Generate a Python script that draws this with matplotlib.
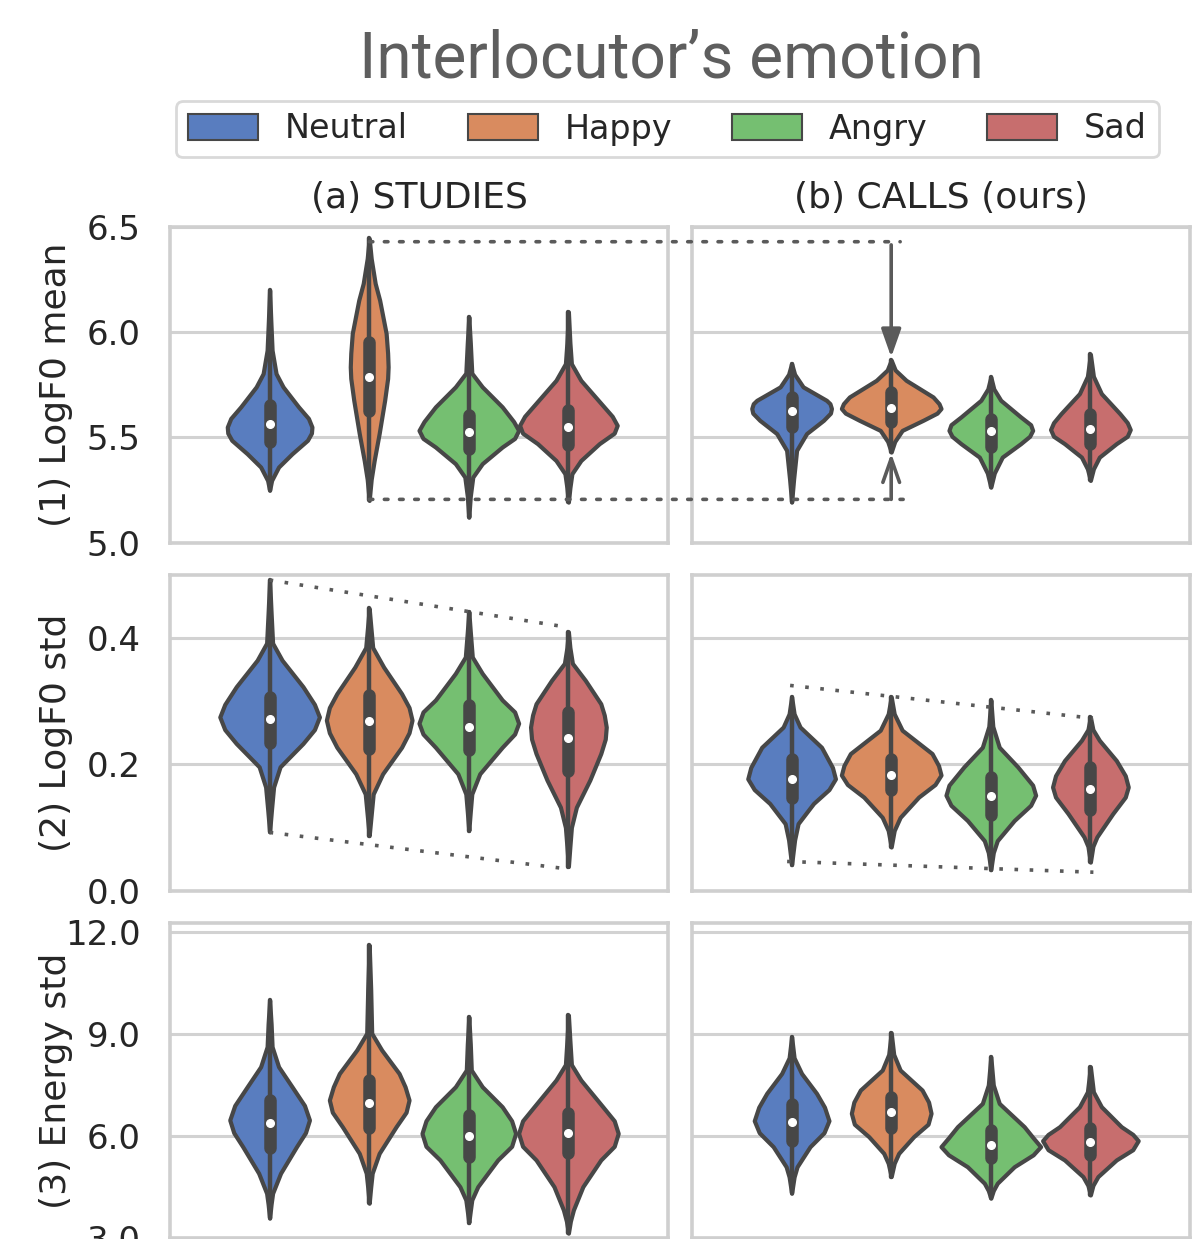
import colorsys
import matplotlib
matplotlib.use("Agg")
import matplotlib.pyplot as plt
import matplotlib.colors as mcolors
from matplotlib.patches import Patch, ConnectionPatch

# ---------------- data ----------------
emotions = ["Neutral", "Happy", "Angry", "Sad"]
datasets = ["(a) STUDIES", "(b) CALLS (ours)"]
features = ["(1) LogF0 mean", "(2) LogF0 std", "(3) Energy std"]

# violin profiles: values (low -> high) and relative density width (1 = full slot)
studies_f0mean_vals = [
    [5.248, 5.295, 5.359, 5.422, 5.486, 5.52, 5.549, 5.59, 5.645, 5.74, 5.803, 5.914, 6.05, 6.2],
    [5.20, 5.30, 5.39, 5.518, 5.676, 5.78, 5.835, 5.90, 5.994, 6.152, 6.232, 6.35, 6.446],
    [5.12, 5.22, 5.311, 5.375, 5.454, 5.495, 5.533, 5.575, 5.645, 5.74, 5.805, 5.95, 6.073],
    [5.192, 5.26, 5.327, 5.39, 5.47, 5.52, 5.557, 5.60, 5.676, 5.771, 5.85, 5.95, 6.097],
]
studies_f0mean_dens = [
    [0, 0.04, 0.18, 0.45, 0.76, 0.84, 0.85, 0.78, 0.58, 0.27, 0.13, 0.05, 0.025, 0],
    [0, 0.04, 0.10, 0.20, 0.31, 0.37, 0.38, 0.37, 0.34, 0.21, 0.12, 0.04, 0],
    [0, 0.03, 0.08, 0.27, 0.67, 0.92, 1.0, 0.90, 0.67, 0.27, 0.06, 0.03, 0],
    [0, 0.03, 0.07, 0.25, 0.62, 0.92, 0.98, 0.88, 0.60, 0.25, 0.06, 0.03, 0],
]
studies_f0mean_box = [(5.478, 5.562, 5.652), (5.625, 5.787, 5.954),
                      (5.446, 5.525, 5.605), (5.462, 5.549, 5.629)]

calls_f0mean_vals = [
    [5.192, 5.30, 5.438, 5.518, 5.581, 5.615, 5.637, 5.66, 5.676, 5.74, 5.80, 5.851],
    [5.43, 5.48, 5.533, 5.581, 5.615, 5.637, 5.66, 5.692, 5.771, 5.82, 5.867],
    [5.263, 5.33, 5.406, 5.47, 5.505, 5.533, 5.56, 5.597, 5.676, 5.73, 5.787],
    [5.295, 5.35, 5.406, 5.47, 5.505, 5.537, 5.57, 5.613, 5.708, 5.79, 5.895],
]
calls_f0mean_dens = [
    [0, 0.04, 0.10, 0.30, 0.64, 0.78, 0.80, 0.77, 0.70, 0.23, 0.06, 0],
    [0, 0.07, 0.22, 0.64, 0.92, 1.0, 0.96, 0.84, 0.30, 0.08, 0],
    [0, 0.07, 0.23, 0.60, 0.78, 0.84, 0.80, 0.60, 0.20, 0.06, 0],
    [0, 0.06, 0.18, 0.52, 0.74, 0.80, 0.74, 0.59, 0.22, 0.06, 0],
]
calls_f0mean_box = [(5.549, 5.625, 5.692), (5.573, 5.641, 5.716),
                    (5.454, 5.530, 5.589), (5.470, 5.540, 5.613)]

studies_f0std_vals = [
    [0.093, 0.13, 0.164, 0.196, 0.233, 0.255, 0.275, 0.295, 0.323, 0.365, 0.392, 0.44, 0.492],
    [0.087, 0.12, 0.153, 0.185, 0.227, 0.25, 0.270, 0.29, 0.312, 0.354, 0.385, 0.42, 0.447],
    [0.095, 0.125, 0.153, 0.185, 0.227, 0.248, 0.265, 0.283, 0.302, 0.344, 0.37, 0.41, 0.442],
    [0.038, 0.07, 0.100, 0.132, 0.175, 0.217, 0.24, 0.259, 0.278, 0.296, 0.333, 0.36, 0.385, 0.410],
]
studies_f0std_dens = [
    [0, 0.04, 0.08, 0.21, 0.67, 0.90, 1.0, 0.90, 0.67, 0.25, 0.06, 0.03, 0],
    [0, 0.04, 0.08, 0.27, 0.65, 0.80, 0.86, 0.80, 0.65, 0.29, 0.07, 0.03, 0],
    [0, 0.03, 0.06, 0.22, 0.67, 0.92, 1.0, 0.92, 0.67, 0.27, 0.07, 0.03, 0],
    [0, 0.03, 0.06, 0.16, 0.43, 0.65, 0.74, 0.76, 0.72, 0.65, 0.34, 0.08, 0.03, 0],
]
studies_f0std_box = [(0.234, 0.271, 0.307), (0.225, 0.268, 0.310),
                     (0.222, 0.259, 0.294), (0.190, 0.242, 0.283)]

calls_f0std_vals = [
    [0.041, 0.08, 0.106, 0.138, 0.16, 0.177, 0.195, 0.227, 0.259, 0.28, 0.307],
    [0.069, 0.095, 0.116, 0.148, 0.168, 0.183, 0.198, 0.217, 0.254, 0.28, 0.307],
    [0.033, 0.06, 0.079, 0.111, 0.135, 0.151, 0.167, 0.196, 0.227, 0.26, 0.302],
    [0.045, 0.07, 0.085, 0.122, 0.148, 0.164, 0.182, 0.206, 0.238, 0.255, 0.275],
]
calls_f0std_dens = [
    [0, 0.06, 0.13, 0.44, 0.75, 0.88, 0.82, 0.60, 0.17, 0.05, 0],
    [0, 0.06, 0.18, 0.55, 0.88, 1.0, 0.95, 0.82, 0.22, 0.06, 0],
    [0, 0.05, 0.13, 0.47, 0.80, 0.90, 0.84, 0.54, 0.17, 0.04, 0],
    [0, 0.05, 0.13, 0.45, 0.70, 0.76, 0.70, 0.52, 0.18, 0.05, 0],
]
calls_f0std_box = [(0.147, 0.177, 0.209), (0.159, 0.183, 0.209),
                   (0.119, 0.149, 0.180), (0.127, 0.161, 0.196)]

studies_energy_vals = [
    [3.588, 4.0, 4.32, 4.91, 5.69, 6.1, 6.473, 6.9, 7.45, 8.038, 8.625, 9.3, 9.995],
    [4.028, 4.5, 4.91, 5.494, 6.277, 6.7, 7.06, 7.45, 7.84, 8.53, 9.02, 10.3, 11.61],
    [3.459, 3.8, 4.125, 4.515, 5.30, 5.7, 6.08, 6.45, 6.863, 7.45, 7.94, 8.7, 9.505],
    [3.148, 3.5, 3.83, 4.515, 5.30, 5.7, 6.08, 6.45, 6.863, 7.647, 8.1, 8.8, 9.555],
]
studies_energy_dens = [
    [0, 0.03, 0.06, 0.22, 0.54, 0.72, 0.80, 0.70, 0.45, 0.18, 0.05, 0.03, 0],
    [0, 0.03, 0.06, 0.20, 0.54, 0.74, 0.80, 0.72, 0.60, 0.25, 0.05, 0.03, 0],
    [0, 0.03, 0.06, 0.18, 0.58, 0.86, 0.94, 0.86, 0.67, 0.27, 0.05, 0.03, 0],
    [0, 0.04, 0.10, 0.29, 0.65, 0.92, 1.0, 0.92, 0.69, 0.25, 0.06, 0.03, 0],
]
studies_energy_box = [(5.64, 6.394, 7.06), (6.23, 6.98, 7.647),
                      (5.396, 6.00, 6.62), (5.495, 6.10, 6.67)]

calls_energy_vals = [
    [4.32, 4.8, 5.10, 5.69, 6.1, 6.453, 6.85, 7.257, 7.84, 8.3, 8.918],
    [4.81, 5.2, 5.494, 5.983, 6.35, 6.67, 7.0, 7.353, 7.94, 8.4, 9.036],
    [4.175, 4.4, 4.616, 5.10, 5.45, 5.69, 5.95, 6.277, 6.96, 7.5, 8.33],
    [4.27, 4.55, 4.81, 5.30, 5.6, 5.866, 6.05, 6.277, 6.863, 7.3, 8.038],
]
calls_energy_dens = [
    [0, 0.05, 0.11, 0.37, 0.65, 0.75, 0.66, 0.50, 0.20, 0.05, 0],
    [0, 0.06, 0.15, 0.45, 0.74, 0.80, 0.75, 0.62, 0.18, 0.05, 0],
    [0, 0.05, 0.13, 0.47, 0.85, 1.0, 0.85, 0.67, 0.17, 0.05, 0],
    [0, 0.05, 0.15, 0.52, 0.85, 0.96, 0.85, 0.62, 0.22, 0.06, 0],
]
calls_energy_box = [(5.866, 6.424, 6.94), (6.23, 6.717, 7.157),
                    (5.348, 5.74, 6.18), (5.446, 5.837, 6.23)]

# annotation values
f0mean_studies_happy_range = (5.205, 6.43)   # dotted lines
f0mean_arrow_tips = (5.424, 5.881)           # arrows onto CALLS happy
f0std_studies_top = (0.492, 0.417)
f0std_studies_bottom = (0.092, 0.035)
f0std_calls_top = (0.325, 0.273)
f0std_calls_bottom = (0.046, 0.029)

ylims = [(5.0, 6.5), (0.0, 0.5), (3.0, 12.27)]
yticks = [[5.0, 5.5, 6.0, 6.5], [0.0, 0.2, 0.4], [3.0, 6.0, 9.0, 12.0]]

# ---------------- style ----------------
muted = ["#4878d0", "#ee854a", "#6acc64", "#d65f5f"]


def desat(c, p=0.75):
    r, g, b = mcolors.to_rgb(c)
    h, l, s = colorsys.rgb_to_hls(r, g, b)
    return colorsys.hls_to_rgb(h, l, s * p)


colors = [desat(c) for c in muted]
LINE = "#474747"
GRID = "#d2d2d2"
TXT = "#262626"
ANN = "#5a5a5a"
plt.rcParams["font.family"] = ["DejaVu Sans"]

fig = plt.figure(figsize=(11.93, 12.39), dpi=100)
W, H = 1193.0, 1239.0
col_left = [170, 692]
col_w = 498
row_top = [227, 575, 922.7]
row_h = 315.5

offsets = [-0.3, -0.1, 0.1, 0.3]
SLOT = 0.2

panels = [
    [(studies_f0mean_vals, studies_f0mean_dens, studies_f0mean_box),
     (calls_f0mean_vals, calls_f0mean_dens, calls_f0mean_box)],
    [(studies_f0std_vals, studies_f0std_dens, studies_f0std_box),
     (calls_f0std_vals, calls_f0std_dens, calls_f0std_box)],
    [(studies_energy_vals, studies_energy_dens, studies_energy_box),
     (calls_energy_vals, calls_energy_dens, calls_energy_box)],
]


def draw_violin(ax, x, vals, dens, box, color):
    half = [d * SLOT / 2 for d in dens]
    ax.fill_betweenx(vals, [x - h for h in half], [x + h for h in half],
                     facecolor=color, edgecolor=LINE, linewidth=3.0,
                     joinstyle="round", zorder=2)
    ax.plot([x, x], [vals[0], vals[-1]], color=LINE, lw=3.2,
            solid_capstyle="round", zorder=3)
    ax.plot([x, x], [box[0], box[2]], color=LINE, lw=9,
            solid_capstyle="round", zorder=4)
    ax.plot([x], [box[1]], "o", color="white", mec="white", ms=5.5, zorder=5)


axes = [[None, None] for _ in range(3)]
for r in range(3):
    for c in range(2):
        rect = [col_left[c] / W, 1 - (row_top[r] + row_h) / H, col_w / W, row_h / H]
        ax = fig.add_axes(rect)
        axes[r][c] = ax
        ax.set_xlim(-0.5, 0.5)
        ax.set_ylim(*ylims[r])
        ax.set_xticks([])
        ax.set_yticks(yticks[r])
        ax.set_yticklabels([f"{t:.1f}" for t in yticks[r]])
        ax.grid(axis="y", color=GRID, lw=2.2, zorder=0)
        ax.set_axisbelow(True)
        for s in ax.spines.values():
            s.set_color("#cfcfcf")
            s.set_linewidth(2.6)
        ax.tick_params(axis="y", length=0, pad=21, labelsize=24.5, labelcolor=TXT)
        if c == 1:
            ax.tick_params(labelleft=False)
        else:
            ax.set_ylabel(features[r], fontsize=26, color=TXT)
            ax.yaxis.set_label_coords(-0.195, 0.5)
        vals_l, dens_l, box_l = panels[r][c]
        for i in range(4):
            draw_violin(ax, offsets[i], vals_l[i], dens_l[i], box_l[i], colors[i])
        if r == 0:
            ax.set_title(datasets[c], fontsize=26, color=TXT, pad=14)

# ---- annotations ----
dot = dict(linestyle=(0, (1, 3.2)), lw=2.6, color=ANN)
axL, axR = axes[0]
for yv, xend in zip(f0mean_studies_happy_range, (-0.076, -0.082)):
    cp = ConnectionPatch(xyA=(offsets[1], yv), coordsA=axL.transData,
                         xyB=(xend, yv), coordsB=axR.transData, zorder=6, **dot)
    fig.add_artist(cp)
axR.annotate("", xy=(offsets[1], f0mean_arrow_tips[1]),
             xytext=(offsets[1], f0mean_studies_happy_range[1] - 0.015),
             arrowprops=dict(arrowstyle="-|>,head_length=0.85,head_width=0.3",
                             mutation_scale=20, lw=2.6, color=ANN,
                             shrinkA=0, shrinkB=0), zorder=6)
axR.annotate("", xy=(offsets[1], f0mean_arrow_tips[0]),
             xytext=(offsets[1], f0mean_studies_happy_range[0]),
             arrowprops=dict(arrowstyle="->,head_length=0.85,head_width=0.3",
                             mutation_scale=20, lw=2.6, color=ANN,
                             shrinkA=0, shrinkB=0), zorder=6)

a2L, a2R = axes[1]
a2L.plot([offsets[0], offsets[3]], list(f0std_studies_top), zorder=6, **dot)
a2L.plot([offsets[0], 0.29], list(f0std_studies_bottom), zorder=6, **dot)
a2R.plot([-0.303, 0.305], list(f0std_calls_top), zorder=6, **dot)
a2R.plot([-0.309, 0.306], list(f0std_calls_bottom), zorder=6, **dot)

# ---- legend & title ----
handles = [Patch(facecolor=colors[i], edgecolor=LINE, lw=1.5, label=emotions[i])
           for i in range(4)]
leg = fig.legend(handles=handles, loc="center", ncol=4,
                 bbox_to_anchor=(667.5 / W, 1 - 129 / H), fontsize=24,
                 handlelength=2.1, handleheight=0.8, handletextpad=0.8,
                 columnspacing=1.8, borderpad=0.35, frameon=True,
                 fancybox=True, edgecolor="#d0d0d0", labelcolor=TXT)
leg.get_frame().set_linewidth(2.0)

fig.text(671 / W, 1 - 78 / H, "Interlocutor\u2019s emotion", fontsize=46,
         family=["Roboto", "DejaVu Sans"], color="#5e5e5e",
         ha="center", va="baseline")

fig.savefig("out.png", dpi=100, facecolor="white")
